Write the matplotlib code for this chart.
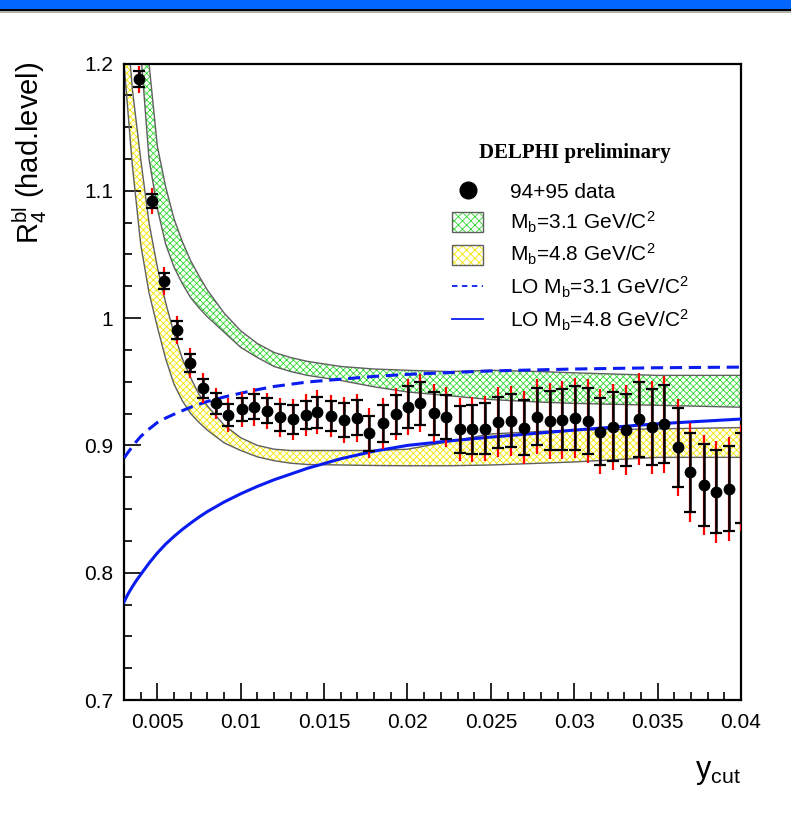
import matplotlib
matplotlib.use("Agg")
import matplotlib.pyplot as plt
import numpy as np
from matplotlib.lines import Line2D
from matplotlib.patches import Patch, Rectangle
from matplotlib.legend_handler import HandlerTuple
from matplotlib.ticker import MultipleLocator

plt.rcParams['font.family'] = ['Liberation Sans', 'DejaVu Sans']
plt.rcParams['mathtext.fontset'] = 'custom'
plt.rcParams['mathtext.rm'] = 'Liberation Sans'
plt.rcParams['mathtext.it'] = 'Liberation Sans'
plt.rcParams['hatch.linewidth'] = 0.6

# ---- data points (94+95 data) ----
ycut = [0.0039, 0.00466, 0.00542, 0.0062, 0.00696, 0.00776, 0.00852, 0.00926,
        0.01008, 0.01082, 0.01156, 0.01236, 0.01312, 0.0139, 0.0146, 0.01542,
        0.0162, 0.01698, 0.01772, 0.01852, 0.0193, 0.02002, 0.02078, 0.02156,
        0.02232, 0.02312, 0.02388, 0.02464, 0.0254, 0.0262, 0.02696, 0.02776,
        0.02852, 0.02924, 0.03002, 0.0308, 0.03156, 0.03232, 0.03308, 0.0339,
        0.03466, 0.0354, 0.0362, 0.03696, 0.03776, 0.0385, 0.03926, 0.0400]
r4 = [1.1876, 1.092, 1.029, 0.9906, 0.9645, 0.9449, 0.933, 0.9239,
      0.9283, 0.9304, 0.9273, 0.922, 0.9205, 0.9239, 0.926, 0.9233,
      0.920, 0.9218, 0.9095, 0.9173, 0.9244, 0.9304, 0.933, 0.9252,
      0.9224, 0.9126, 0.9126, 0.9131, 0.918, 0.9194, 0.9139, 0.9226,
      0.9194, 0.920, 0.9213, 0.9192, 0.9108, 0.9147, 0.9121, 0.9205,
      0.9142, 0.9166, 0.8985, 0.8789, 0.8689, 0.8636, 0.866, 0.8744]
err_stat = [0.0064, 0.0052, 0.0065, 0.0073, 0.0071, 0.0076, 0.0085, 0.0089,
            0.0092, 0.0098, 0.0098, 0.0108, 0.0112, 0.0112, 0.0124, 0.0118,
            0.0131, 0.0137, 0.0136, 0.0144, 0.0153, 0.0165, 0.0170, 0.0170,
            0.0174, 0.0183, 0.0190, 0.0202, 0.0203, 0.0208, 0.0216, 0.0226,
            0.0232, 0.0240, 0.0251, 0.0258, 0.0262, 0.0273, 0.0281, 0.0295,
            0.0299, 0.0305, 0.0310, 0.0312, 0.0320, 0.0328, 0.0336, 0.0354]
err_tot = [0.0105, 0.0100, 0.0110, 0.0112, 0.0118, 0.0118, 0.0124, 0.0131,
           0.0137, 0.0148, 0.0141, 0.0155, 0.0163, 0.0165, 0.0173, 0.0165,
           0.0181, 0.0189, 0.0196, 0.0200, 0.0204, 0.0220, 0.0228, 0.0228,
           0.0236, 0.0246, 0.0255, 0.0255, 0.0275, 0.0275, 0.0288, 0.0295,
           0.0299, 0.0306, 0.0314, 0.0328, 0.0334, 0.0338, 0.0350, 0.0360,
           0.0367, 0.0380, 0.0380, 0.0389, 0.0389, 0.0399, 0.0408, 0.0420]

# ---- theory bands / curves ----
xb = [0.003, 0.0035, 0.004, 0.0045, 0.005, 0.0055, 0.006, 0.0065, 0.007, 0.0075,
      0.008, 0.009, 0.010, 0.011, 0.012, 0.013, 0.014, 0.016, 0.018, 0.020,
      0.0225, 0.025, 0.028, 0.030, 0.035, 0.040]
green_hi = [1.45, 1.36, 1.27, 1.20, 1.135, 1.103, 1.078, 1.060, 1.045, 1.033,
            1.022, 1.004, 0.990, 0.980, 0.973, 0.969, 0.966, 0.962, 0.960, 0.959,
            0.958, 0.959, 0.958, 0.957, 0.955, 0.955]
green_lo = [1.36, 1.28, 1.21, 1.125, 1.086, 1.058, 1.040, 1.027, 1.016, 1.008,
            1.001, 0.989, 0.977, 0.969, 0.962, 0.958, 0.955, 0.951, 0.946, 0.942,
            0.939, 0.936, 0.934, 0.933, 0.9315, 0.930]
yellow_hi = [1.26, 1.18, 1.125, 1.075, 1.040, 1.012, 0.988, 0.968, 0.953, 0.940,
             0.931, 0.916, 0.906, 0.900, 0.897, 0.896, 0.896, 0.896, 0.896, 0.897,
             0.903, 0.909, 0.911, 0.912, 0.913, 0.914]
yellow_lo = [1.20, 1.12, 1.058, 1.020, 0.993, 0.968, 0.948, 0.935, 0.925, 0.918,
             0.912, 0.902, 0.896, 0.891, 0.888, 0.886, 0.885, 0.8846, 0.8842, 0.884,
             0.884, 0.8846, 0.886, 0.887, 0.8906, 0.8906]

xlo = [0.003, 0.00325, 0.0035, 0.00375, 0.004, 0.0045, 0.005, 0.0055, 0.006, 0.0065,
       0.007, 0.0075, 0.008, 0.009, 0.010, 0.011, 0.012, 0.014, 0.016, 0.018, 0.020,
       0.0225, 0.025, 0.030, 0.035, 0.040]
lo_31 = [0.890, 0.8947, 0.899, 0.9032, 0.907, 0.9128, 0.918, 0.9215, 0.9245, 0.9273,
         0.930, 0.9323, 0.9345, 0.938, 0.941, 0.9438, 0.9463, 0.9498, 0.952, 0.9542,
         0.9558, 0.9572, 0.9585, 0.960, 0.961, 0.9615]
lo_48 = [0.777, 0.7835, 0.789, 0.794, 0.7985, 0.8075, 0.8155, 0.8225, 0.8285, 0.834,
         0.839, 0.8437, 0.848, 0.8555, 0.862, 0.8678, 0.873, 0.882, 0.8895, 0.8955,
         0.900, 0.9035, 0.9065, 0.912, 0.917, 0.9207]

xticks = [0.005, 0.01, 0.015, 0.02, 0.025, 0.03, 0.035, 0.04]
xticklabels = ['0.005', '0.01', '0.015', '0.02', '0.025', '0.03', '0.035', '0.04']
yticks = [0.7, 0.8, 0.9, 1.0, 1.1, 1.2]
yticklabels = ['0.7', '0.8', '0.9', '1', '1.1', '1.2']

GREEN = '#2fd82f'
YELLOW = '#f2e600'
BLUE = '#0a1cf0'
EDGE = '#606060'
HATCH = 'xxxxx'

fig = plt.figure(figsize=(7.91, 8.36), dpi=100)
# header bar
fig.patches.append(Rectangle((0, 1 - 8.5 / 836), 1, 8.5 / 836, transform=fig.transFigure,
                             facecolor='#0066ff', edgecolor='none', zorder=0))
fig.patches.append(Rectangle((0, 1 - 11 / 836), 1, 2.5 / 836, transform=fig.transFigure,
                             facecolor='black', edgecolor='none', zorder=0))
fig.patches.append(Rectangle((0, 1 - 13 / 836), 1, 1.5 / 836, transform=fig.transFigure,
                             facecolor='#b0b0b0', edgecolor='none', zorder=0))

ax = fig.add_axes([124 / 791, 1 - 700 / 836, 617 / 791, 636.5 / 836])

# bands
ax.fill_between(xb, green_lo, green_hi, facecolor='white', edgecolor=GREEN,
                hatch=HATCH, linewidth=0, zorder=1)
ax.plot(xb, green_hi, color=EDGE, lw=1.0, zorder=2)
ax.plot(xb, green_lo, color=EDGE, lw=1.0, zorder=2)
ax.fill_between(xb, yellow_lo, yellow_hi, facecolor='white', edgecolor=YELLOW,
                hatch=HATCH, linewidth=0, zorder=1)
ax.plot(xb, yellow_hi, color=EDGE, lw=1.0, zorder=2)
ax.plot(xb, yellow_lo, color=EDGE, lw=1.0, zorder=2)

# LO curves
ax.plot(xlo, lo_31, color=BLUE, lw=2.2, ls=(0, (4, 2.2)), zorder=3)
ax.plot(xlo, lo_48, color=BLUE, lw=2.2, zorder=3)

# data
ycut_a = np.array(ycut)
r4_a = np.array(r4)
ax.errorbar(ycut_a, r4_a, yerr=err_tot, fmt='none', ecolor='red', elinewidth=1.6,
            capsize=0, zorder=4)
ax.errorbar(ycut_a, r4_a, yerr=err_stat, fmt='none', ecolor='black', elinewidth=1.8,
            capsize=4, capthick=1.6, zorder=5)
vis = ycut_a < 0.0399
ax.plot(ycut_a[vis], r4_a[vis], 'o', color='black', ms=7.5, zorder=6)

ax.set_xlim(0.003, 0.04)
ax.set_ylim(0.7, 1.2)
ax.set_xticks(xticks)
ax.set_xticklabels(xticklabels)
ax.set_yticks(yticks)
ax.set_yticklabels(yticklabels)
ax.xaxis.set_minor_locator(MultipleLocator(0.001))
ax.yaxis.set_minor_locator(MultipleLocator(0.025))
ax.tick_params(which='both', direction='in', top=False, right=False, width=1.2,
               labelsize=15)
ax.tick_params(which='major', length=12)
ax.tick_params(which='minor', length=6)
ax.tick_params(axis='x', pad=9)
ax.tick_params(axis='y', pad=8)
for s in ax.spines.values():
    s.set_linewidth(1.6)

fig.text(30 / 791, 1 - 153 / 836, r'$\mathregular{R_4^{bl}}$ (had.level)', rotation=90,
         fontsize=21, ha='center', va='center')
fig.text(718 / 791, 1 - 772 / 836, r'$\mathregular{y_{cut}}$', fontsize=22,
         ha='center', va='center')

ax.text(0.731, 0.859, 'DELPHI preliminary', transform=ax.transAxes, ha='center',
        va='center', fontsize=15, fontweight='bold', family='Liberation Serif')

h_data = Line2D([], [], marker='o', color='black', ls='none', ms=12)
h_g = (Patch(facecolor='white', edgecolor=GREEN, hatch='xxxx', lw=0),
       Patch(facecolor='none', edgecolor=EDGE, lw=1.0))
h_y = (Patch(facecolor='white', edgecolor=YELLOW, hatch='xxxx', lw=0),
       Patch(facecolor='none', edgecolor=EDGE, lw=1.0))
h_l1 = Line2D([], [], color=BLUE, lw=1.3, ls=(0, (3, 2.5)))
h_l2 = Line2D([], [], color=BLUE, lw=1.3)
labels = ['94+95 data', r'M$_\mathregular{b}$=3.1 GeV/C$^\mathregular{2}$',
          r'M$_\mathregular{b}$=4.8 GeV/C$^\mathregular{2}$',
          r'LO M$_\mathregular{b}$=3.1 GeV/C$^\mathregular{2}$',
          r'LO M$_\mathregular{b}$=4.8 GeV/C$^\mathregular{2}$']
leg = ax.legend([h_data, h_g, h_y, h_l1, h_l2], labels,
                handler_map={tuple: HandlerTuple(ndivide=1)},
                loc='upper left', bbox_to_anchor=((452 - 124) / 617, 1 - (181 - 63.5) / 636.5),
                frameon=False, fontsize=15, handlelength=1.5, handleheight=1.1,
                handletextpad=1.3, labelspacing=0.36, borderpad=0, borderaxespad=0)

fig.savefig('out.png', dpi=100)
